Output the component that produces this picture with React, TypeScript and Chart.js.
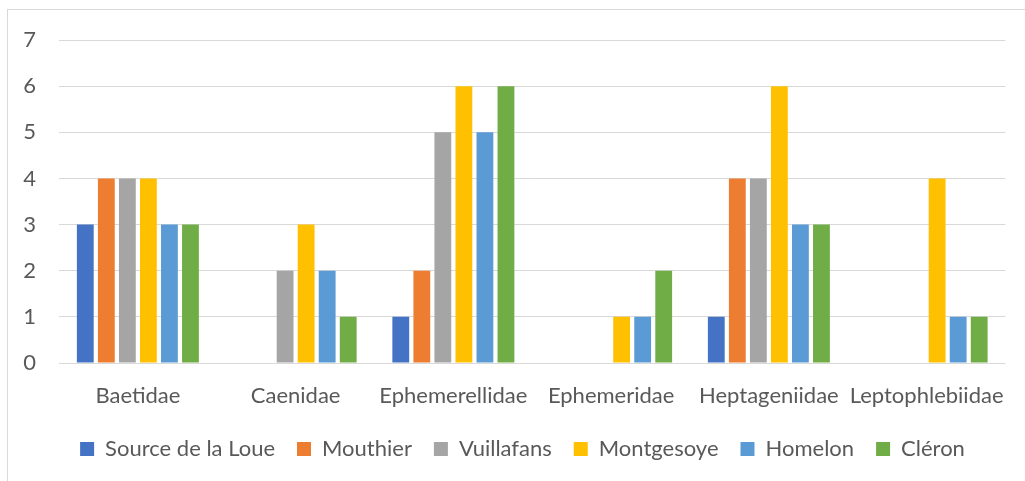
import React, { useEffect, useRef } from "react";
import { Chart, registerables } from "chart.js";

Chart.register(...registerables);

const categories = ["Baetidae", "Caenidae", "Ephemerellidae", "Ephemeridae", "Heptageniidae", "Leptophlebiidae"];
const seriesNames = ["Source de la Loue", "Mouthier", "Vuillafans", "Montgesoye", "Homelon", "Cléron"];
const sourceDeLaLoue = [3, 0, 1, 0, 1, 0];
const mouthier = [4, 0, 2, 0, 4, 0];
const vuillafans = [4, 2, 5, 0, 4, 0];
const montgesoye = [4, 3, 6, 1, 6, 4];
const homelon = [3, 2, 5, 1, 3, 1];
const cleron = [3, 1, 6, 2, 3, 1];
const seriesColors = ["#4472C4", "#ED7D31", "#A5A5A5", "#FFC000", "#5B9BD5", "#70AD47"];
const yTicks = [0, 1, 2, 3, 4, 5, 6, 7];

const FONT = "Lato, 'Open Sans', sans-serif";
const TEXT = "#595959";
const FS = 22;

export default function App() {
  const ref = useRef<HTMLCanvasElement | null>(null);
  useEffect(() => {
    if (!ref.current) return;
    const values = [sourceDeLaLoue, mouthier, vuillafans, montgesoye, homelon, cleron];
    const borderPlugin = {
      id: "frame",
      beforeDraw(chart: any) {
        const c = chart.ctx;
        c.save();
        c.fillStyle = "#ffffff";
        c.fillRect(0, 0, chart.width, chart.height);
        c.strokeStyle = "#D9D9D9";
        c.lineWidth = 1;
        c.strokeRect(7.5, 9.5, 1200, 800);
        c.restore();
      },
    };
    const chart = new Chart(ref.current, {
      type: "bar",
      data: {
        labels: categories,
        datasets: seriesNames.map((name, i) => ({
          label: name,
          data: values[i],
          backgroundColor: seriesColors[i],
          borderWidth: 0,
          categoryPercentage: 0.8,
          barPercentage: 0.8,
        })),
      },
      options: {
        responsive: false,
        animation: false,
        layout: { padding: { left: 20, right: 0, top: 40, bottom: 11 } },
        plugins: {
          tooltip: { enabled: false },
          legend: {
            position: "bottom",
            labels: {
              boxWidth: 14,
              boxHeight: 14,
              padding: 22,
              color: TEXT,
              font: { family: FONT, size: FS },
            },
          },
        },
        scales: {
          x: {
            grid: { display: false, drawTicks: false },
            border: { display: false },
            ticks: { color: TEXT, font: { family: FONT, size: FS }, padding: 20, maxRotation: 0, autoSkip: false },
            afterFit(scale: any) {
              scale.height = 53;
            },
          },
          y: {
            min: 0,
            max: 7,
            afterBuildTicks(scale: any) {
              scale.ticks = yTicks.map((v) => ({ value: v }));
            },
            grid: { color: "#D9D9D9", lineWidth: 1, drawTicks: false },
            border: { display: false },
            ticks: { color: TEXT, font: { family: FONT, size: FS }, padding: 23 },
            afterFit(scale: any) {
              scale.width = 39;
            },
          },
          y2: {
            position: "right",
            display: true,
            grid: { display: false, drawTicks: false },
            border: { display: false },
            ticks: { display: false },
            afterFit(scale: any) {
              scale.width = 18;
            },
          },
        },
      },
      plugins: [borderPlugin],
    });
    return () => chart.destroy();
  }, []);
  return (
    <canvas
      ref={ref}
      width={1025}
      height={481}
      style={{ position: "fixed", left: 0, top: 0, width: 1025, height: 481 }}
    />
  );
}
